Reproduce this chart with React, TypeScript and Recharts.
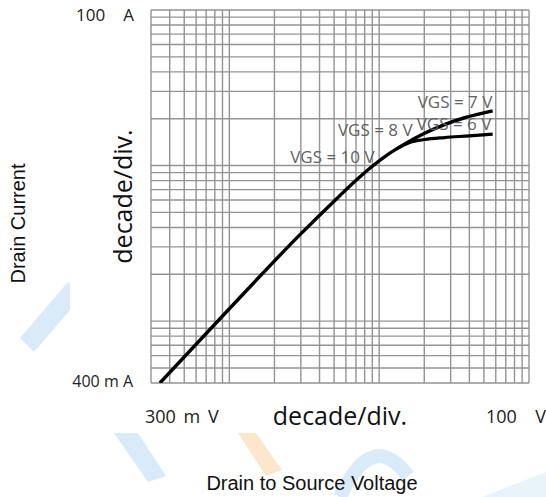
import React from "react";
import {
  CartesianGrid,
  Label,
  Line,
  LineChart,
  ReferenceDot,
  XAxis,
  YAxis,
} from "recharts";

// axis ranges (log-log)
const xDomain = [0.3, 100];
const yDomain = [0.4, 100];

// grid lines: every 1..9 step of each decade
const xGridTicks = [
  0.3, 0.4, 0.5, 0.6, 0.7, 0.8, 0.9, 1, 2, 3, 4, 5, 6, 7, 8, 9, 10, 20, 30, 40,
  50, 60, 70, 80, 90, 100,
];
const yGridTicks = [
  0.4, 0.5, 0.6, 0.7, 0.8, 0.9, 1, 2, 3, 4, 5, 6, 7, 8, 9, 10, 20, 30, 40, 50,
  60, 70, 80, 90, 100,
];

const xTickLabels = ["300 m V", "100  V"];
const yTickLabels = ["400 m A", "100  A"];

// VDS (V) / ID (A)
const vdsMain = [0.344, 1.0, 2.94, 5.46, 6.87, 8.91, 11.4, 14.83, 20.1, 27.3, 37.2, 57.2];
const idMain = [0.4, 1.2, 3.57, 6.4, 7.89, 9.82, 11.75, 13.78, 16.13, 18.35, 20.29, 22.45];
const vdsVgs6 = [13.08, 16.0, 20.1, 27.3, 40.1, 57.2];
const idVgs6 = [12.79, 14.06, 14.7, 15.14, 15.52, 15.94];

// curve annotations
const vgsLabels = ["VGS = 10 V", "VGS = 8 V", "VGS = 7 V", "VGS = 6 V"];
const vgsLabelVds = [4.87, 9.42, 32.1, 31.6];
const vgsLabelId = [11.4, 16.9, 25.8, 18.5];

const mainData = vdsMain.map((v, i) => ({ v, id: idMain[i] }));
const vgs6Data = vdsVgs6.map((v, i) => ({ v, id: idVgs6[i] }));

const TICK_FONT = "'Open Sans', sans-serif";
const TITLE_FONT = "'Liberation Sans', Arial, sans-serif";

function XTick(props: any) {
  const { x, y, payload } = props;
  const style = { whiteSpace: "pre" as const };
  if (payload.value === xDomain[0]) {
    return (
      <text x={x - 6} y={y + 40} fontSize={18} fill="#222" fontFamily={TICK_FONT} style={style} wordSpacing={3}>
        {xTickLabels[0]}
      </text>
    );
  }
  if (payload.value === xDomain[1]) {
    return (
      <text x={x - 43} y={y + 40} fontSize={18} fill="#222" fontFamily={TICK_FONT} style={style} wordSpacing={4.5}>
        {xTickLabels[1]}
      </text>
    );
  }
  return <g />;
}

function YTick(props: any) {
  const { x, y, payload } = props;
  const style = { whiteSpace: "pre" as const };
  if (payload.value === yDomain[0]) {
    return (
      <text x={x - 18} y={y + 4} textAnchor="end" fontSize={16} fill="#222" fontFamily={TICK_FONT} style={style}>
        {yTickLabels[0]}
      </text>
    );
  }
  if (payload.value === yDomain[1]) {
    return (
      <text x={x - 17} y={y + 11} textAnchor="end" fontSize={17} fill="#222" fontFamily={TICK_FONT} style={style} wordSpacing={4.6}>
        {yTickLabels[1]}
      </text>
    );
  }
  return <g />;
}

function Watermark() {
  return (
    <svg width={546} height={497} style={{ position: "absolute", left: 0, top: 0 }} opacity={0.85}>
      <polygon points="20,338 34,352 82,296 68,282" fill="#d3e7f7" />
      <polygon points="114,433 138,433 166,476 148,482" fill="#d3e7f7" />
      <polygon points="238,433 256,433 282,470 266,476" fill="#fce3c6" />
      <path d="M 340 497 Q 372 428 408 476" stroke="#d3e7f7" strokeWidth={14} fill="none" />
      <polygon points="482,497 546,472 546,497" fill="#e6f1fa" />
    </svg>
  );
}

export default function App() {
  return (
    <div
      style={{
        position: "absolute",
        left: 0,
        top: 0,
        width: 546,
        height: 497,
        background: "#fff",
        overflow: "hidden",
      }}
    >
      <Watermark />
      <div style={{ position: "absolute", left: 70, top: 0, width: 476, height: 433, background: "#fff" }} />
      <div style={{ position: "absolute", left: 0, top: 0 }}>
        <LineChart
          width={546}
          height={497}
          margin={{ top: 10, right: 17, bottom: 84, left: 121 }}
        >
          <CartesianGrid stroke="#939393" strokeWidth={1.4} />
          <XAxis
            dataKey="v"
            type="number"
            scale="log"
            domain={xDomain}
            allowDataOverflow
            ticks={xGridTicks}
            interval={0}
            height={30}
            tickSize={0}
            tickMargin={0}
            axisLine={false}
            tickLine={false}
            tick={XTick}
          >
            <Label
              content={(p: any) => {
                const vb = p.viewBox;
                return (
                  <text
                    x={vb.x + vb.width / 2}
                    y={vb.y + 42}
                    textAnchor="middle"
                    fontSize={25}
                    fill="#111"
                    fontFamily={TICK_FONT}
                  >
                    decade/div.
                  </text>
                );
              }}
            />
            <Label
              content={(p: any) => {
                const vb = p.viewBox;
                return (
                  <text
                    x={vb.x + vb.width / 2 - 28}
                    y={vb.y + 107}
                    textAnchor="middle"
                    fontSize={20}
                    fill="#111"
                    fontFamily={TITLE_FONT}
                  >
                    Drain to Source Voltage
                  </text>
                );
              }}
            />
          </XAxis>
          <YAxis
            dataKey="id"
            type="number"
            scale="log"
            domain={yDomain}
            allowDataOverflow
            ticks={yGridTicks}
            interval={0}
            width={30}
            tickSize={0}
            tickMargin={0}
            axisLine={false}
            tickLine={false}
            tick={YTick}
          >
            <Label
              content={(p: any) => {
                const vb = p.viewBox;
                const cx = vb.x + vb.width - 19;
                const cy = vb.y + vb.height / 2;
                return (
                  <text
                    x={cx}
                    y={cy}
                    transform={`rotate(-90, ${cx}, ${cy})`}
                    textAnchor="middle"
                    fontSize={25}
                    fill="#111"
                    fontFamily={TICK_FONT}
                  >
                    decade/div.
                  </text>
                );
              }}
            />
            <Label
              content={(p: any) => {
                const vb = p.viewBox;
                const cx = vb.x + vb.width - 126;
                const cy = vb.y + vb.height / 2 + 27;
                return (
                  <text
                    x={cx}
                    y={cy}
                    transform={`rotate(-90, ${cx}, ${cy})`}
                    textAnchor="middle"
                    fontSize={20}
                    fill="#111"
                    fontFamily={TITLE_FONT}
                  >
                    Drain Current
                  </text>
                );
              }}
            />
          </YAxis>
          {vgsLabels.map((t, i) => (
            <ReferenceDot
              key={t}
              x={vgsLabelVds[i]}
              y={vgsLabelId[i]}
              r={0}
              fill="none"
              stroke="none"
              label={{
                value: t,
                position: "center",
                fill: "#626262",
                fontSize: 17,
                fontFamily: TICK_FONT,
              }}
            />
          ))}
          <Line
            data={mainData}
            dataKey="id"
            type="monotone"
            stroke="#000"
            strokeWidth={3.4}
            dot={false}
            isAnimationActive={false}
          />
          <Line
            data={vgs6Data}
            dataKey="id"
            type="monotone"
            stroke="#000"
            strokeWidth={3.2}
            dot={false}
            isAnimationActive={false}
          />
        </LineChart>
      </div>
    </div>
  );
}
